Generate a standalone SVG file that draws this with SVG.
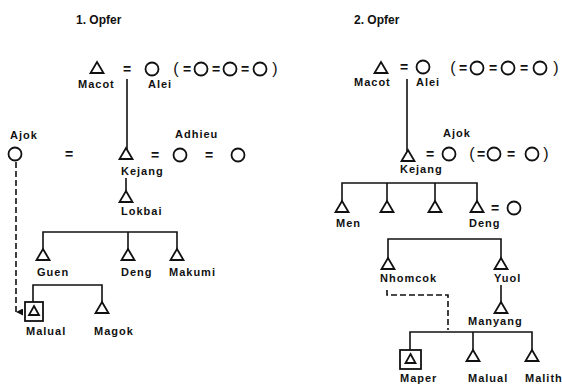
<svg xmlns="http://www.w3.org/2000/svg" xmlns:xlink="http://www.w3.org/1999/xlink" width="562" height="386" viewBox="0 0 562 386">
<style>
.t{font-family:"Liberation Sans",Arial,sans-serif;font-size:11px;font-weight:bold;letter-spacing:1px;fill:#111}
.ttl{font-family:"Liberation Sans",Arial,sans-serif;font-size:12px;font-weight:bold;fill:#111}
.eq{font-family:"Liberation Sans",Arial,sans-serif;font-size:14px;font-weight:bold;fill:#111;text-anchor:middle}
.par{font-family:"Liberation Sans",Arial,sans-serif;font-size:16px;fill:#111;text-anchor:middle}
.sym{fill:none;stroke:#111;stroke-width:1.8;stroke-linejoin:miter}
.ln{fill:none;stroke:#111;stroke-width:1.6}
.dash{fill:none;stroke:#111;stroke-width:1.6;stroke-dasharray:6 3}
</style>
<defs>
<path id="tri" d="M0,0 L6.5,11 L-6.5,11 Z" class="sym"/>
<path id="tris" d="M0,0 L5,9 L-5,9 Z" class="sym"/>
<marker id="arr" viewBox="0 0 10 10" refX="5" refY="10" markerWidth="7" markerHeight="7" markerUnits="userSpaceOnUse" orient="auto-start-reverse">
<path d="M0,0 L10,0 L5,10 Z" fill="#111"/>
</marker>
</defs>
<rect width="562" height="386" fill="#fff"/>

<text class="ttl" x="76" y="24">1. Opfer</text>
<text class="ttl" x="354" y="24">2. Opfer</text>

<g id="connectors">
<!-- left -->
<line class="ln" x1="127" y1="79" x2="127" y2="149"/>
<line class="ln" x1="126" y1="178" x2="126" y2="191"/>
<polyline class="ln" points="43,249 43,232 177,232 177,249"/>
<line class="ln" x1="128" y1="232" x2="128" y2="249"/>
<polyline class="ln" points="33,302 33,285 102,285 102,302"/>
<line class="dash" x1="16" y1="162" x2="16" y2="312" marker-end="url(#arr)"/>
<!-- right -->
<line class="ln" x1="407" y1="79" x2="407" y2="151"/>
<polyline class="ln" points="342,201 342,183 477,183 477,201"/>
<line class="ln" x1="387" y1="183" x2="387" y2="201"/>
<line class="ln" x1="435" y1="183" x2="435" y2="201"/>
<polyline class="ln" points="388,258 388,239 501,239 501,258"/>
<line class="ln" x1="501" y1="285" x2="501" y2="302"/>
<polyline class="dash" points="387,290 387,295 448,295 448,330"/>
<polyline class="ln" points="410,350 410,332 532,332 532,350"/>
<line class="ln" x1="473" y1="332" x2="473" y2="350"/>
</g>

<!-- LEFT: 1. Opfer -->
<g id="l-macot">
<use xlink:href="#tri" x="97" y="62"/>
<text class="t" x="78" y="88">Macot</text>
</g>
<text class="eq" x="127" y="74">=</text>
<g id="l-alei">
<circle class="sym" cx="152" cy="69" r="6.5"/>
<text class="t" x="148" y="88">Alei</text>
</g>
<g id="l-alei-cowives">
<text class="par" x="176" y="74">(</text>
<text class="eq" x="187" y="74">=</text>
<circle class="sym" cx="201" cy="69" r="6.5"/>
<text class="eq" x="216" y="74">=</text>
<circle class="sym" cx="230" cy="69" r="6.5"/>
<text class="eq" x="245" y="74">=</text>
<circle class="sym" cx="260" cy="69" r="6.5"/>
<text class="par" x="275" y="74">)</text>
</g>

<g id="l-ajok">
<text class="t" x="10" y="139">Ajok</text>
<circle class="sym" cx="15" cy="154" r="6.5"/>
</g>
<text class="eq" x="69" y="159">=</text>
<g id="l-kejang">
<use xlink:href="#tri" x="126" y="148"/>
<text class="t" x="121" y="175">Kejang</text>
</g>
<text class="eq" x="155" y="160">=</text>
<g id="l-adhieu">
<text class="t" x="175" y="138">Adhieu</text>
<circle class="sym" cx="180" cy="155" r="6.5"/>
</g>
<text class="eq" x="209" y="160">=</text>
<g id="l-wife3">
<circle class="sym" cx="238" cy="155" r="6.5"/>
</g>
<g id="l-lokbai">
<use xlink:href="#tri" x="126" y="191"/>
<text class="t" x="121" y="215">Lokbai</text>
</g>
<g id="l-guen">
<use xlink:href="#tri" x="43" y="249"/>
<text class="t" x="37" y="276">Guen</text>
</g>
<g id="l-deng">
<use xlink:href="#tri" x="128" y="249"/>
<text class="t" x="121" y="276">Deng</text>
</g>
<g id="l-makumi">
<use xlink:href="#tri" x="177" y="249"/>
<text class="t" x="169" y="276">Makumi</text>
</g>
<g id="l-malual">
<rect class="sym" x="25" y="302" width="18" height="19"/>
<use xlink:href="#tris" x="34" y="306"/>
<text class="t" x="26" y="335">Malual</text>
</g>
<g id="l-magok">
<use xlink:href="#tri" x="102" y="302"/>
<text class="t" x="94" y="335">Magok</text>
</g>

<!-- RIGHT: 2. Opfer -->
<g id="r-macot">
<use xlink:href="#tri" x="381" y="62"/>
<text class="t" x="354" y="86">Macot</text>
</g>
<text class="eq" x="404" y="72">=</text>
<g id="r-alei">
<circle class="sym" cx="423" cy="67" r="6.5"/>
<text class="t" x="416" y="86">Alei</text>
</g>
<g id="r-alei-cowives">
<text class="par" x="453" y="73">(</text>
<text class="eq" x="463" y="73">=</text>
<circle class="sym" cx="477" cy="68" r="6.5"/>
<text class="eq" x="493" y="73">=</text>
<circle class="sym" cx="508" cy="68" r="6.5"/>
<text class="eq" x="524" y="73">=</text>
<circle class="sym" cx="540" cy="68" r="6.5"/>
<text class="par" x="556" y="73">)</text>
</g>

<g id="r-kejang">
<use xlink:href="#tri" x="408" y="150"/>
<text class="t" x="400" y="173">Kejang</text>
</g>
<text class="eq" x="430" y="159">=</text>
<g id="r-ajok">
<text class="t" x="443" y="137">Ajok</text>
<circle class="sym" cx="449" cy="154" r="6.5"/>
</g>
<g id="r-ajok-cowives">
<text class="par" x="472" y="159">(</text>
<text class="eq" x="481" y="159">=</text>
<circle class="sym" cx="494" cy="154" r="6.5"/>
<text class="eq" x="511" y="159">=</text>
<circle class="sym" cx="532" cy="154" r="6.5"/>
<text class="par" x="546" y="159">)</text>
</g>

<g id="r-men">
<use xlink:href="#tri" x="342" y="201"/>
<text class="t" x="336" y="227">Men</text>
</g>
<g id="r-son2">
<use xlink:href="#tri" x="387" y="201"/>
</g>
<g id="r-son3">
<use xlink:href="#tri" x="435" y="201"/>
</g>
<g id="r-deng">
<use xlink:href="#tri" x="477" y="201"/>
<text class="t" x="469" y="227">Deng</text>
</g>
<text class="eq" x="495" y="213">=</text>
<g id="r-deng-wife">
<circle class="sym" cx="514" cy="208" r="6.5"/>
</g>
<g id="r-nhomcok">
<use xlink:href="#tri" x="388" y="258"/>
<text class="t" x="380" y="282">Nhomcok</text>
</g>
<g id="r-yuol">
<use xlink:href="#tri" x="501" y="258"/>
<text class="t" x="494" y="282">Yuol</text>
</g>
<g id="r-manyang">
<use xlink:href="#tri" x="501" y="302"/>
<text class="t" x="468" y="325">Manyang</text>
</g>
<g id="r-maper">
<rect class="sym" x="400" y="350" width="21" height="19"/>
<use xlink:href="#tris" x="410.5" y="354"/>
<text class="t" x="400" y="382">Maper</text>
</g>
<g id="r-malual">
<use xlink:href="#tri" x="473" y="350"/>
<text class="t" x="468" y="382">Malual</text>
</g>
<g id="r-malith">
<use xlink:href="#tri" x="532" y="350"/>
<text class="t" x="525" y="382">Malith</text>
</g>
</svg>
